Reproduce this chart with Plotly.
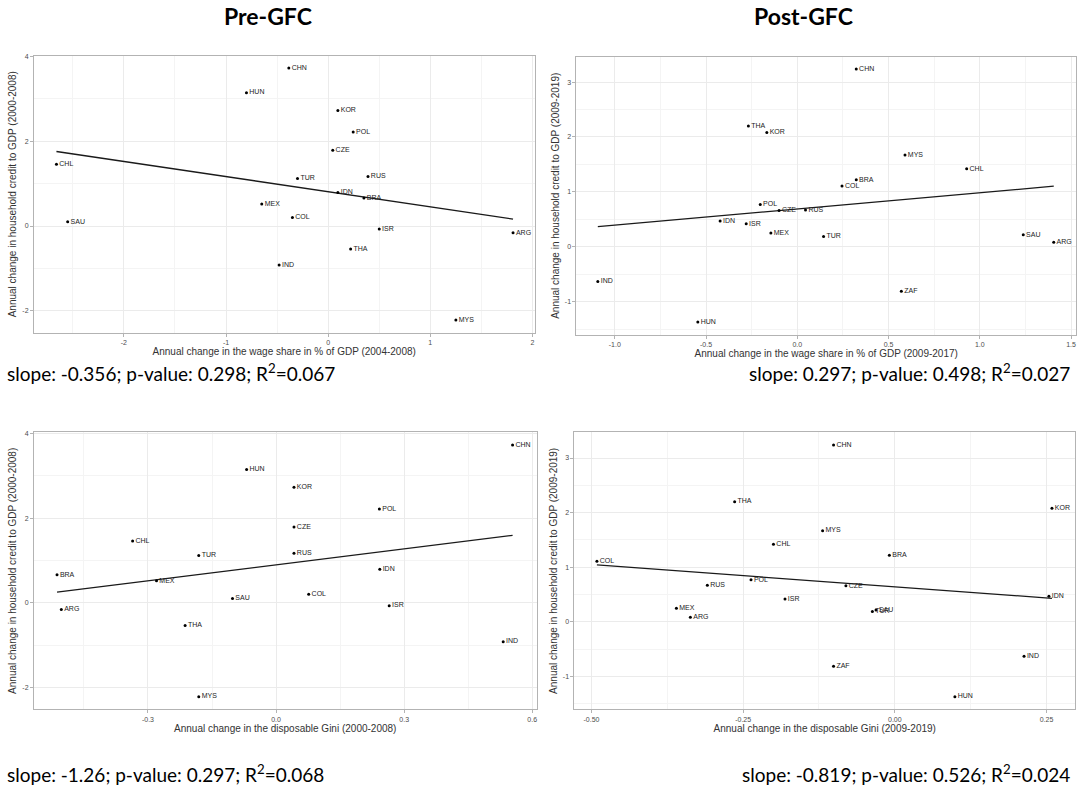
import numpy as np
import plotly.graph_objects as go

# ---------------- data ----------------
countries_pre = ["CHL", "SAU", "HUN", "MEX", "IND", "CHN", "KOR", "POL", "CZE",
                 "TUR", "RUS", "IDN", "BRA", "COL", "ISR", "THA", "ARG", "MYS"]
wage_pre = [-2.66, -2.55, -0.80, -0.65, -0.48, -0.385, 0.095, 0.245, 0.045,
            -0.30, 0.39, 0.095, 0.35, -0.35, 0.50, 0.22, 1.81, 1.25]
gini_pre = [-0.336, -0.102, -0.069, -0.280, 0.532, 0.554, 0.042, 0.242, 0.042,
            -0.181, 0.042, 0.243, -0.513, 0.0765, 0.265, -0.213, -0.503, -0.181]
credit_pre = [1.46, 0.10, 3.15, 0.52, -0.92, 3.73, 2.73, 2.22, 1.79,
              1.12, 1.17, 0.79, 0.66, 0.20, -0.07, -0.54, -0.16, -2.22]

countries_post = ["IND", "HUN", "IDN", "ISR", "THA", "KOR", "POL", "CZE", "MEX", "RUS",
                  "CHN", "MYS", "CHL", "BRA", "COL", "TUR", "ZAF", "SAU", "ARG"]
wage_post = [-1.093, -0.545, -0.423, -0.28, -0.268, -0.167, -0.203, -0.10, -0.145, 0.045,
             0.323, 0.59, 0.928, 0.323, 0.245, 0.144, 0.57, 1.238, 1.405]
gini_post = [0.213, 0.099, 0.254, -0.181, -0.264, 0.259, -0.237, -0.0806, -0.36, -0.309,
             -0.101, -0.119, -0.200, -0.009, -0.491, -0.037, -0.101, -0.031, -0.337]
credit_post = [-0.63, -1.37, 0.47, 0.42, 2.20, 2.08, 0.77, 0.66, 0.25, 0.67,
               3.24, 1.67, 1.42, 1.22, 1.11, 0.19, -0.81, 0.22, 0.085]

column_titles = ["Pre-GFC", "Post-GFC"]
stat_texts = [
    "slope: -0.356; p-value: 0.298; R<sup>2</sup>=0.067",
    "slope: 0.297; p-value: 0.498; R<sup>2</sup>=0.027",
    "slope: -1.26; p-value: 0.297; R<sup>2</sup>=0.068",
    "slope: -0.819; p-value: 0.526; R<sup>2</sup>=0.024",
]
x_titles = [
    "Annual change in the wage share in % of GDP (2004-2008)",
    "Annual change in the wage share in % of GDP (2009-2017)",
    "Annual change in the disposable Gini (2000-2008)",
    "Annual change in the disposable Gini (2009-2019)",
]
y_titles = [
    "Annual change in household credit to GDP (2000-2008)",
    "Annual change in household credit to GDP (2009-2019)",
    "Annual change in household credit to GDP (2000-2008)",
    "Annual change in household credit to GDP (2009-2019)",
]
x_ticks = [[-2, -1, 0, 1, 2], [-1.0, -0.5, 0.0, 0.5, 1.0, 1.5],
           [-0.3, 0.0, 0.3, 0.6], [-0.50, -0.25, 0.00, 0.25]]
x_ticktext = [["-2", "-1", "0", "1", "2"], ["-1.0", "-0.5", "0.0", "0.5", "1.0", "1.5"],
              ["-0.3", "0.0", "0.3", "0.6"], ["-0.50", "-0.25", "0.00", "0.25"]]
y_ticks = [[-2, 0, 2, 4], [-1, 0, 1, 2, 3], [-2, 0, 2, 4], [-1, 0, 1, 2, 3]]

# ---------------- layout geometry (pixels) ----------------
W, H = 1080, 791
boxes = [(34, 535, 53, 331), (577, 1077, 54, 333), (34, 537, 431, 709), (575, 1076, 431, 709)]
x_ranges = [[-2.88, 2.02], [-1.21, 1.527], [-0.567, 0.610], [-0.528, 0.297]]
y_ranges = [[-2.52, 4.02], [-1.60, 3.46], [-2.52, 4.03], [-1.60, 3.47]]

panels = [
    (countries_pre, wage_pre, credit_pre),
    (countries_post, wage_post, credit_post),
    (countries_pre, gini_pre, credit_pre),
    (countries_post, gini_post, credit_post),
]

fig = go.Figure()
layout = dict(
    width=W, height=H, margin=dict(l=0, r=0, t=0, b=0),
    paper_bgcolor="white", plot_bgcolor="white", showlegend=False,
    font=dict(family="Liberation Sans, Arial, sans-serif", color="#333333"),
)

border = "#b3b3b3"
for i, (names, xs, ys) in enumerate(panels):
    n = i + 1
    xa = "x" if n == 1 else f"x{n}"
    ya = "y" if n == 1 else f"y{n}"
    # regression line (OLS through the points)
    xs_arr = np.array(xs)
    ys_arr = np.array(ys)
    b1, b0 = np.polyfit(xs_arr, ys_arr, 1)
    lx = np.array([xs_arr.min(), xs_arr.max()])
    fig.add_trace(go.Scatter(x=lx, y=b0 + b1 * lx, mode="lines",
                             line=dict(color="#1a1a1a", width=1.3),
                             xaxis=xa, yaxis=ya, hoverinfo="skip"))
    fig.add_trace(go.Scatter(x=xs, y=ys, mode="markers+text", text=names,
                             textposition="middle right",
                             textfont=dict(size=7, color="#222222",
                                           family="Liberation Sans, Arial, sans-serif"),
                             marker=dict(color="black", size=3),
                             xaxis=xa, yaxis=ya))
    x0, x1, y0, y1 = boxes[i]
    xdom = [x0 / W, x1 / W]
    ydom = [1 - y1 / H, 1 - y0 / H]
    xstep = x_ticks[i][1] - x_ticks[i][0]
    ystep = y_ticks[i][1] - y_ticks[i][0]
    common = dict(showline=True, mirror=True, linecolor=border, linewidth=1,
                  showgrid=True, gridcolor="#ebebeb", gridwidth=1, zeroline=False,
                  ticks="outside", ticklen=3, tickcolor=border,
                  tickfont=dict(size=7, color="#4d4d4d"))
    layout["xaxis" if n == 1 else f"xaxis{n}"] = dict(
        common, domain=xdom, range=x_ranges[i], anchor=ya,
        tickvals=x_ticks[i], ticktext=x_ticktext[i],
        minor=dict(showgrid=True, gridcolor="#f4f4f4", gridwidth=0.6,
                   tick0=x_ticks[i][0] - xstep / 2, dtick=xstep),
        title=dict(text=x_titles[i], font=dict(size=10, color="#333333"), standoff=0),
    )
    layout["yaxis" if n == 1 else f"yaxis{n}"] = dict(
        common, domain=ydom, range=y_ranges[i], anchor=xa,
        tickvals=y_ticks[i], ticktext=[str(v) for v in y_ticks[i]],
        minor=dict(showgrid=True, gridcolor="#f4f4f4", gridwidth=0.6,
                   tick0=y_ticks[i][0] - ystep / 2, dtick=ystep),
        title=dict(text=y_titles[i], font=dict(size=10, color="#333333"), standoff=3),
    )

annotations = []
for cx, t in zip([268, 804], column_titles):
    annotations.append(dict(x=cx / W, y=1 - 13 / H, xref="paper", yref="paper",
                            text=f"<b>{t}</b>", showarrow=False, xanchor="center",
                            yanchor="middle",
                            font=dict(family="Lato, Open Sans, sans-serif", size=23, color="black")))
stat_pos = [(5, 371, "left"), (1073, 371, "right"), (5, 773, "left"), (1073, 773, "right")]
for (px, py, anc), t in zip(stat_pos, stat_texts):
    annotations.append(dict(x=px / W, y=1 - py / H, xref="paper", yref="paper",
                            text=t, showarrow=False, xanchor=anc, yanchor="middle",
                            font=dict(family="Lato, Open Sans, sans-serif", size=19, color="black")))
layout["annotations"] = annotations

fig.update_layout(**layout)
fig.write_html("out.html", config={"displayModeBar": False},
               post_script="document.body.style.margin='0';document.body.style.overflow='hidden';")
